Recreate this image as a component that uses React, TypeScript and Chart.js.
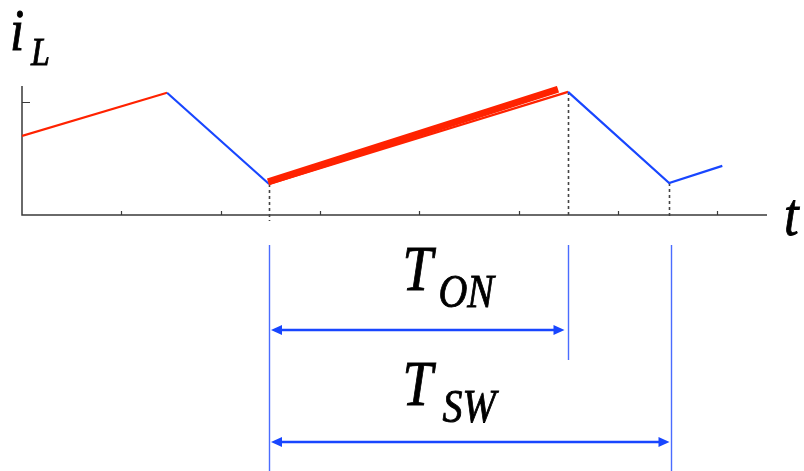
import { useEffect, useRef } from 'react';
import { Chart, registerables } from 'chart.js';

Chart.register(...registerables);

// Time axis tick positions (switching-period units) and current-axis tick.
const timeTicks = [1, 2, 3, 4, 5, 6, 7];
const currentTicks = [1];

// Corners of the inductor-current waveform.
const cornerTimes = [0, 1.46, 2.487, 5.497, 6.515, 7.05];
const cornerCurrents = [0.699, 1.08, 0.274, 1.088, 0.283, 0.434];
// Switch state for each segment between consecutive corners.
const segmentPhases = ['on', 'off', 'on', 'off', 'off'];

// Emphasised on-time ramp.
const highlightTimes = [2.477, 5.396];
const highlightCurrents = [0.292, 1.111];

// Corners that get a dashed drop line to the time axis.
const dropCorners = [2, 3, 4];
// Dimension arrows: start corner, end corner, main label, subscript
const spanStart = [2, 2];
const spanEnd = [3, 4];
const spanLabels = ['T', 'T'];
const spanSubs = ['ON', 'SW'];

const T_MAX = 7.5;
const I_MAX = 1.14;

const RED = '#ff2200';
const BLUE = '#1846ff';
const LIGHT_BLUE = '#4a6cff';
const SERIF = "'Liberation Serif', 'Times New Roman', serif";
// Glyphs are set slightly narrow, like the typeset labels of the figure.
const TEXT_SQUEEZE = 0.85;

function arrowHead(ctx: CanvasRenderingContext2D, tipX: number, y: number, dir: number) {
  const len = 11;
  const half = 5;
  ctx.beginPath();
  ctx.moveTo(tipX, y);
  ctx.lineTo(tipX - dir * len, y - half);
  ctx.lineTo(tipX - dir * len, y + half);
  ctx.closePath();
  ctx.fill();
}

function label(ctx: CanvasRenderingContext2D, text: string, size: number, x: number, y: number) {
  ctx.save();
  ctx.font = `italic ${size}px ${SERIF}`;
  ctx.translate(x, y);
  ctx.scale(TEXT_SQUEEZE, 1);
  ctx.fillText(text, 0, 0);
  // a hairline outline gives the glyphs a little more weight
  ctx.strokeStyle = '#000';
  ctx.lineWidth = 0.9;
  ctx.strokeText(text, 0, 0);
  ctx.restore();
}

const diagramPlugin = {
  id: 'diagram',
  beforeDatasetsDraw(chart: any) {
    const { ctx, chartArea: a, scales } = chart;
    const x = scales.x;
    const y = scales.y;
    ctx.save();
    // axes
    ctx.strokeStyle = '#3a3a3a';
    ctx.lineWidth = 1.5;
    ctx.beginPath();
    ctx.moveTo(a.left, a.top);
    ctx.lineTo(a.left, a.bottom);
    ctx.lineTo(a.right, a.bottom);
    ctx.stroke();
    // inward tick marks
    ctx.lineWidth = 1.2;
    ctx.beginPath();
    timeTicks.forEach((v) => {
      const px = Math.round(x.getPixelForValue(v)) + 0.5;
      ctx.moveTo(px, a.bottom);
      ctx.lineTo(px, a.bottom - 4);
    });
    currentTicks.forEach((v) => {
      const py = Math.round(y.getPixelForValue(v)) + 0.5;
      ctx.moveTo(a.left, py);
      ctx.lineTo(a.left + 8, py);
    });
    ctx.stroke();
    // dashed drops from the switching instants
    ctx.setLineDash([3, 3]);
    ctx.strokeStyle = '#444444';
    ctx.lineWidth = 1.6;
    ctx.beginPath();
    dropCorners.forEach((i, k) => {
      const px = Math.round(x.getPixelForValue(cornerTimes[i])) + 0.5;
      ctx.moveTo(px, y.getPixelForValue(cornerCurrents[i]));
      ctx.lineTo(px, a.bottom + (k === 0 ? 6 : 3));
    });
    ctx.stroke();
    ctx.restore();
  },
  afterDatasetsDraw(chart: any) {
    const { ctx, chartArea: a, scales } = chart;
    const x = scales.x;
    const H = chart.height;
    ctx.save();
    ctx.fillStyle = '#000';
    ctx.textBaseline = 'alphabetic';
    ctx.textAlign = 'left';
    // axis names
    label(ctx, 'i', 60, a.left - 12, a.top - 36);
    label(ctx, 'L', 40, a.left + 9, a.top - 21);
    label(ctx, 't', 62, a.right + 17, a.bottom + 20);

    // dimension lines
    const x0 = Math.round(x.getPixelForValue(cornerTimes[spanStart[0]])) + 0.5;
    const extTop = a.bottom + 30;
    const arrowY = [a.bottom + 115, a.bottom + 227];
    const extBottom = [a.bottom + 145, H];
    ctx.strokeStyle = LIGHT_BLUE;
    ctx.lineWidth = 1.4;
    ctx.beginPath();
    ctx.moveTo(x0, extTop);
    ctx.lineTo(x0, H);
    spanEnd.forEach((ci, k) => {
      const px = Math.round(x.getPixelForValue(cornerTimes[ci])) + 0.5 + (k === 1 ? 2 : 0);
      ctx.moveTo(px, extTop);
      ctx.lineTo(px, extBottom[k]);
    });
    ctx.stroke();

    ctx.strokeStyle = BLUE;
    ctx.fillStyle = BLUE;
    ctx.lineWidth = 2.4;
    spanEnd.forEach((ci, k) => {
      const px = Math.round(x.getPixelForValue(cornerTimes[ci])) + 0.5 + (k === 1 ? 2 : 0);
      const lTip = x0 + 1.5;
      const rTip = px - (k === 0 ? 4 : 2);
      const yy = arrowY[k];
      ctx.beginPath();
      ctx.moveTo(lTip + 8, yy);
      ctx.lineTo(rTip - 8, yy);
      ctx.stroke();
      arrowHead(ctx, lTip, yy, -1);
      arrowHead(ctx, rTip, yy, 1);
    });

    // span labels
    ctx.fillStyle = '#000';
    const labelBase = [a.bottom + 75, a.bottom + 190];
    const subOffset = [169, 173];
    spanLabels.forEach((lab, k) => {
      label(ctx, lab, 64, x0 + 133, labelBase[k]);
      label(ctx, spanSubs[k], 47, x0 + subOffset[k], labelBase[k] + 17);
    });
    ctx.restore();
  },
};

export default function App() {
  const canvasRef = useRef<HTMLCanvasElement | null>(null);

  useEffect(() => {
    document.body.style.margin = '0';
    const canvas = canvasRef.current;
    if (!canvas) return;
    const waveform = cornerTimes.map((t, i) => ({ x: t, y: cornerCurrents[i] }));
    const highlight = highlightTimes.map((t, i) => ({ x: t, y: highlightCurrents[i] }));
    const chart = new Chart(canvas, {
      type: 'line',
      data: {
        datasets: [
          {
            data: highlight,
            borderColor: RED,
            borderWidth: 7,
            borderCapStyle: 'butt',
            pointRadius: 0,
            fill: false,
          },
          {
            data: waveform,
            borderColor: BLUE,
            borderWidth: 2.2,
            pointRadius: 0,
            fill: false,
            segment: {
              borderColor: (c: any) => (segmentPhases[c.p0DataIndex] === 'on' ? RED : BLUE),
            },
          },
        ],
      },
      options: {
        animation: false,
        responsive: false,
        devicePixelRatio: 1,
        layout: { padding: { left: 22, top: 86, right: 37, bottom: 256 } },
        plugins: { legend: { display: false }, tooltip: { enabled: false } },
        scales: {
          x: { type: 'linear', min: 0, max: T_MAX, display: false },
          y: { type: 'linear', min: 0, max: I_MAX, display: false },
        },
      },
      plugins: [diagramPlugin],
    });
    return () => chart.destroy();
  }, []);

  return (
    <div style={{ position: 'absolute', left: 0, top: 0, width: 804, height: 471, background: '#fff' }}>
      <canvas ref={canvasRef} width={804} height={471} />
    </div>
  );
}
